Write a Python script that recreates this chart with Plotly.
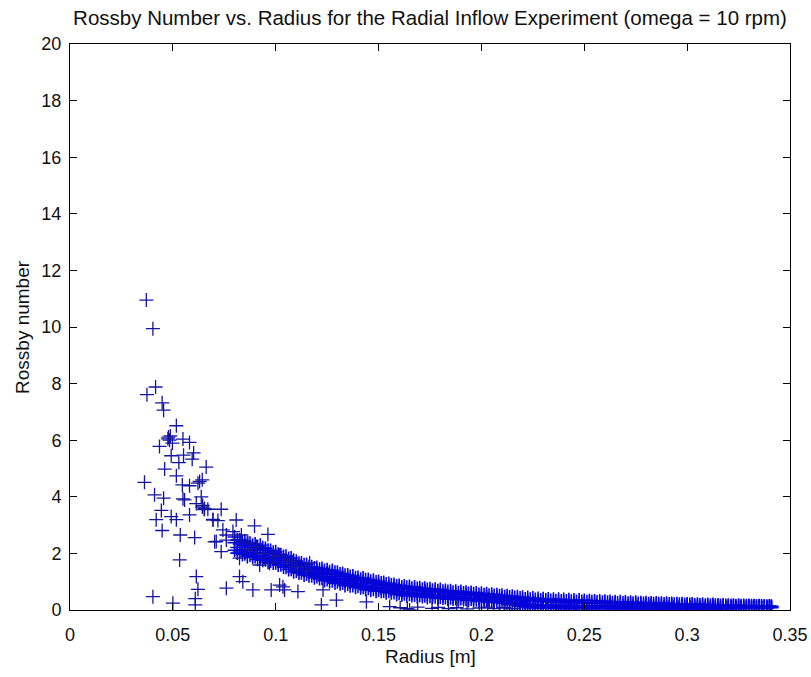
import plotly.graph_objects as go

# ---- scattered points (radius [m], Rossby number) ----
scatter_r = [0.0371, 0.0403, 0.0416, 0.0374, 0.0448, 0.0455, 0.0517, 0.0435, 0.0479, 0.0484,
             0.0549, 0.0581, 0.0601, 0.0492, 0.0552, 0.0594, 0.0662, 0.0460, 0.0529, 0.0362,
             0.0517, 0.0546, 0.0581, 0.0630, 0.0643, 0.0411, 0.0455, 0.0549, 0.0638, 0.0614,
             0.0643, 0.0444, 0.0581, 0.0492, 0.0517, 0.0419, 0.0670, 0.0695, 0.0719, 0.0448,
             0.0536, 0.0606, 0.0711, 0.0533, 0.0614, 0.0622, 0.0403, 0.0500, 0.0609, 0.0609,
             0.0476, 0.0488, 0.0645, 0.0652, 0.0498, 0.0622, 0.0557, 0.0654, 0.0735, 0.0695,
             0.0808, 0.0897, 0.0962, 0.0743, 0.0760, 0.0792, 0.0833, 0.0703, 0.0760, 0.0824,
             0.0865, 0.0906, 0.0735, 0.0824, 0.0873, 0.0938, 0.0986, 0.1019, 0.1052, 0.0970,
             0.0922, 0.1100, 0.1149, 0.0824, 0.0840, 0.0760, 0.0889, 0.0978, 0.1035, 0.1108,
             0.1222, 0.1295, 0.1230, 0.1441, 0.1554, 0.1651, 0.1019, 0.1043, 0.1165, 0.1080,
             0.1605, 0.1640, 0.1690, 0.1760, 0.1790, 0.1840, 0.1880, 0.1930, 0.1990, 0.2030,
             0.2060, 0.2110, 0.2150]
scatter_ro = [10.95, 9.94, 7.88, 7.61, 7.32, 7.06, 6.51, 5.78, 6.11, 6.00,
              6.04, 5.92, 5.55, 5.45, 5.47, 5.33, 5.05, 4.98, 5.21, 4.51,
              4.74, 4.42, 4.39, 4.54, 4.60, 4.07, 3.95, 3.93, 4.00, 3.76,
              3.64, 3.52, 3.36, 3.30, 3.19, 3.19, 3.56, 3.20, 3.16, 2.81,
              2.65, 2.56, 2.42, 1.77, 1.18, 0.73, 0.47, 0.24, 0.18, 0.40,
              6.05, 6.15, 3.70, 3.55, 5.90, 4.48, 3.89, 3.59, 3.56, 3.18,
              3.18, 2.97, 2.67, 2.83, 2.65, 2.77, 2.65, 2.41, 2.47, 2.47,
              2.36, 2.24, 2.06, 1.83, 2.12, 2.00, 1.88, 1.94, 1.77, 1.65,
              1.59, 1.53, 1.41, 1.18, 1.00, 0.77, 0.71, 0.71, 0.82, 0.65,
              0.18, 0.35, 0.71, 0.29, 0.12, 0.00, 0.88, 0.71, 1.66, 1.70,
              0.08, 0.05, 0.10, 0.06, 0.09, 0.05, 0.08, 0.04, 0.07, 0.10,
              0.05, 0.08, 0.05]

# ---- dense band of points ----
band_r = [0.0800, 0.0825, 0.0850, 0.0875, 0.0900, 0.0925, 0.0950, 0.0975, 0.1000, 0.1025,
          0.1050, 0.1075, 0.1100, 0.1125, 0.1150, 0.1175, 0.1200, 0.1225, 0.1250, 0.1275,
          0.1300, 0.1325, 0.1350, 0.1375, 0.1400, 0.1425, 0.1450, 0.1475, 0.1500, 0.1525,
          0.1550, 0.1575, 0.1600, 0.1625, 0.1650, 0.1675, 0.1700, 0.1725, 0.1750, 0.1775,
          0.1800, 0.1825, 0.1850, 0.1875, 0.1900, 0.1925, 0.1950, 0.1975, 0.2000, 0.2025,
          0.2050, 0.2075, 0.2100, 0.2125, 0.2150, 0.2175, 0.2200, 0.2225, 0.2250, 0.2275,
          0.2300, 0.2325, 0.2350, 0.2375, 0.2400, 0.2425, 0.2450, 0.2475, 0.2500, 0.2525,
          0.2550, 0.2575, 0.2600, 0.2625, 0.2650, 0.2675, 0.2700, 0.2725, 0.2750, 0.2775,
          0.2800, 0.2825, 0.2850, 0.2875, 0.2900, 0.2925, 0.2950, 0.2975, 0.3000, 0.3025,
          0.3050, 0.3075, 0.3100, 0.3125, 0.3150, 0.3175, 0.3200, 0.3225, 0.3250, 0.3275,
          0.3300, 0.3325, 0.3350, 0.3375, 0.3400]
band_r_b = [0.0813, 0.0838, 0.0862, 0.0888, 0.0912, 0.0937, 0.0963, 0.0988, 0.1012, 0.1038,
            0.1063, 0.1087, 0.1113, 0.1138, 0.1162, 0.1188, 0.1213, 0.1237, 0.1262, 0.1288,
            0.1313, 0.1337, 0.1362, 0.1388, 0.1413, 0.1437, 0.1462, 0.1488, 0.1513, 0.1537,
            0.1562, 0.1588, 0.1613, 0.1637, 0.1662, 0.1688, 0.1713, 0.1737, 0.1762, 0.1788,
            0.1813, 0.1837, 0.1862, 0.1888, 0.1913, 0.1937, 0.1962, 0.1988, 0.2013, 0.2037,
            0.2062, 0.2088, 0.2113, 0.2137, 0.2162, 0.2188, 0.2213, 0.2237, 0.2262, 0.2288,
            0.2313, 0.2337, 0.2362, 0.2388, 0.2413, 0.2437, 0.2462, 0.2488, 0.2513, 0.2537,
            0.2562, 0.2588, 0.2613, 0.2637, 0.2662, 0.2688, 0.2713, 0.2737, 0.2762, 0.2788,
            0.2813, 0.2837, 0.2862, 0.2888, 0.2913, 0.2937, 0.2962, 0.2988, 0.3013, 0.3037,
            0.3062, 0.3088, 0.3113, 0.3137, 0.3162, 0.3188, 0.3213, 0.3237, 0.3262, 0.3288,
            0.3313, 0.3337, 0.3362, 0.3388, 0.3410]
band_ro_hi = [2.58, 2.47, 2.44, 2.36, 2.33, 2.29, 2.17, 2.10, 2.06, 1.95,
              1.90, 1.84, 1.72, 1.66, 1.61, 1.53, 1.50, 1.47, 1.42, 1.40,
              1.33, 1.29, 1.24, 1.20, 1.15, 1.13, 1.08, 1.05, 1.01, 0.97,
              0.94, 0.90, 0.87, 0.85, 0.83, 0.81, 0.79, 0.77, 0.75, 0.73,
              0.72, 0.69, 0.68, 0.66, 0.65, 0.63, 0.62, 0.60, 0.59, 0.57,
              0.56, 0.54, 0.52, 0.50, 0.49, 0.47, 0.45, 0.44, 0.42, 0.41,
              0.40, 0.39, 0.38, 0.38, 0.37, 0.36, 0.35, 0.35, 0.34, 0.33,
              0.32, 0.32, 0.31, 0.30, 0.29, 0.29, 0.28, 0.27, 0.27, 0.26,
              0.26, 0.25, 0.25, 0.24, 0.24, 0.23, 0.22, 0.22, 0.21, 0.21,
              0.20, 0.20, 0.19, 0.19, 0.18, 0.18, 0.17, 0.17, 0.17, 0.16,
              0.16, 0.15, 0.15, 0.14, 0.14]
band_ro_u = [2.48, 2.40, 2.36, 2.29, 2.24, 2.20, 2.11, 2.04, 1.97, 1.89,
             1.82, 1.76, 1.65, 1.60, 1.53, 1.48, 1.44, 1.40, 1.35, 1.33,
             1.27, 1.23, 1.18, 1.14, 1.09, 1.07, 1.02, 0.99, 0.95, 0.92,
             0.88, 0.85, 0.81, 0.80, 0.77, 0.76, 0.73, 0.72, 0.70, 0.68,
             0.66, 0.65, 0.63, 0.61, 0.60, 0.58, 0.57, 0.55, 0.54, 0.52,
             0.51, 0.50, 0.47, 0.46, 0.44, 0.42, 0.39, 0.38, 0.37, 0.35,
             0.35, 0.34, 0.33, 0.32, 0.32, 0.31, 0.30, 0.30, 0.29, 0.29,
             0.28, 0.27, 0.27, 0.26, 0.25, 0.25, 0.24, 0.24, 0.23, 0.23,
             0.22, 0.22, 0.22, 0.21, 0.21, 0.20, 0.20, 0.19, 0.19, 0.18,
             0.18, 0.17, 0.17, 0.17, 0.16, 0.16, 0.16, 0.15, 0.15, 0.15,
             0.15, 0.14, 0.14, 0.13, 0.13]
band_ro_m1 = [2.38, 2.33, 2.29, 2.22, 2.15, 2.12, 2.04, 1.98, 1.88, 1.83,
              1.74, 1.68, 1.58, 1.54, 1.46, 1.42, 1.38, 1.33, 1.29, 1.26,
              1.20, 1.17, 1.11, 1.08, 1.03, 1.01, 0.96, 0.94, 0.89, 0.87,
              0.82, 0.80, 0.75, 0.74, 0.72, 0.71, 0.68, 0.67, 0.64, 0.63,
              0.61, 0.60, 0.58, 0.57, 0.55, 0.54, 0.52, 0.51, 0.49, 0.48,
              0.46, 0.45, 0.43, 0.41, 0.39, 0.36, 0.34, 0.32, 0.31, 0.30,
              0.29, 0.29, 0.28, 0.27, 0.27, 0.26, 0.26, 0.25, 0.25, 0.24,
              0.24, 0.23, 0.23, 0.22, 0.22, 0.21, 0.21, 0.20, 0.20, 0.20,
              0.19, 0.19, 0.19, 0.18, 0.18, 0.18, 0.17, 0.17, 0.16, 0.16,
              0.16, 0.15, 0.15, 0.15, 0.14, 0.15, 0.14, 0.14, 0.14, 0.13,
              0.14, 0.13, 0.13, 0.12, 0.12]
band_ro_m2 = [2.21, 2.13, 2.09, 2.02, 1.99, 1.92, 1.88, 1.80, 1.76, 1.67,
              1.58, 1.53, 1.44, 1.40, 1.33, 1.28, 1.25, 1.19, 1.16, 1.10,
              1.07, 1.02, 0.99, 0.94, 0.91, 0.86, 0.84, 0.79, 0.77, 0.73,
              0.71, 0.68, 0.64, 0.63, 0.60, 0.59, 0.57, 0.56, 0.54, 0.53,
              0.51, 0.50, 0.48, 0.47, 0.45, 0.44, 0.43, 0.42, 0.40, 0.39,
              0.37, 0.36, 0.34, 0.31, 0.28, 0.25, 0.22, 0.20, 0.19, 0.18,
              0.18, 0.18, 0.17, 0.17, 0.17, 0.16, 0.16, 0.16, 0.15, 0.15,
              0.15, 0.15, 0.14, 0.14, 0.13, 0.13, 0.13, 0.13, 0.12, 0.12,
              0.12, 0.12, 0.12, 0.11, 0.11, 0.11, 0.11, 0.11, 0.10, 0.10,
              0.10, 0.10, 0.10, 0.10, 0.09, 0.10, 0.10, 0.10, 0.10, 0.10,
              0.10, 0.10, 0.10, 0.10, 0.10]
band_ro_d = [2.11, 2.05, 1.99, 1.94, 1.89, 1.84, 1.78, 1.73, 1.67, 1.60,
             1.51, 1.44, 1.38, 1.32, 1.27, 1.21, 1.18, 1.12, 1.08, 1.03,
             1.00, 0.95, 0.92, 0.87, 0.85, 0.80, 0.77, 0.73, 0.71, 0.67,
             0.66, 0.62, 0.59, 0.57, 0.56, 0.53, 0.52, 0.50, 0.49, 0.47,
             0.46, 0.44, 0.43, 0.41, 0.41, 0.39, 0.39, 0.36, 0.36, 0.34,
             0.33, 0.31, 0.29, 0.26, 0.23, 0.19, 0.16, 0.14, 0.13, 0.12,
             0.13, 0.12, 0.12, 0.11, 0.12, 0.10, 0.11, 0.10, 0.11, 0.10,
             0.11, 0.10, 0.10, 0.09, 0.10, 0.08, 0.09, 0.08, 0.09, 0.08,
             0.09, 0.08, 0.08, 0.08, 0.08, 0.07, 0.08, 0.07, 0.08, 0.07,
             0.08, 0.07, 0.08, 0.07, 0.07, 0.08, 0.08, 0.08, 0.08, 0.08,
             0.09, 0.08, 0.09, 0.09, 0.09]
band_ro_lo = [2.01, 1.96, 1.89, 1.86, 1.79, 1.76, 1.69, 1.66, 1.59, 1.52,
              1.43, 1.35, 1.31, 1.24, 1.21, 1.14, 1.11, 1.04, 1.01, 0.95,
              0.93, 0.87, 0.86, 0.80, 0.79, 0.73, 0.71, 0.66, 0.66, 0.61,
              0.61, 0.55, 0.53, 0.50, 0.51, 0.47, 0.48, 0.44, 0.45, 0.41,
              0.42, 0.38, 0.39, 0.36, 0.37, 0.34, 0.35, 0.31, 0.32, 0.28,
              0.29, 0.25, 0.25, 0.20, 0.19, 0.13, 0.11, 0.07, 0.08, 0.06,
              0.08, 0.06, 0.07, 0.05, 0.07, 0.05, 0.07, 0.05, 0.07, 0.05,
              0.07, 0.05, 0.06, 0.05, 0.06, 0.04, 0.06, 0.04, 0.05, 0.04,
              0.06, 0.04, 0.05, 0.04, 0.06, 0.04, 0.05, 0.04, 0.06, 0.04,
              0.05, 0.04, 0.06, 0.04, 0.05, 0.05, 0.06, 0.05, 0.06, 0.06,
              0.07, 0.06, 0.07, 0.07, 0.08]

x_ticks = [0, 0.05, 0.1, 0.15, 0.2, 0.25, 0.3, 0.35]
x_tick_labels = ["0", "0.05", "0.1", "0.15", "0.2", "0.25", "0.3", "0.35"]
y_ticks = [0, 2, 4, 6, 8, 10, 12, 14, 16, 18, 20]

band_all_r = band_r + band_r_b + band_r + band_r_b + band_r + band_r_b
band_all_ro = band_ro_hi + band_ro_u + band_ro_m1 + band_ro_m2 + band_ro_d + band_ro_lo

BAND_COLOR = "#0505d8"
POINT_COLOR = "#14149e"
FONT = "Liberation Sans"
TXT = "#111111"

fig = go.Figure()
fig.add_trace(go.Scatter(
    x=band_all_r, y=band_all_ro, mode="markers",
    marker=dict(symbol="cross-thin", size=10, color=BAND_COLOR,
                line=dict(color=BAND_COLOR, width=1.6)),
    hoverinfo="skip", showlegend=False))
fig.add_trace(go.Scatter(
    x=scatter_r, y=scatter_ro, mode="markers",
    marker=dict(symbol="cross-thin", size=10, color=POINT_COLOR,
                line=dict(color=POINT_COLOR, width=1.3)),
    hoverinfo="skip", showlegend=False))

axis_common = dict(showline=True, linecolor="black", linewidth=1, mirror="ticks",
                   ticks="inside", ticklen=7, tickcolor="black", tickwidth=1,
                   showgrid=False, zeroline=False, automargin=False,
                   tickfont=dict(family=FONT, size=18, color=TXT))

fig.update_layout(
    width=811, height=677,
    paper_bgcolor="white", plot_bgcolor="white",
    margin=dict(l=70, r=21, t=44, b=67, pad=0, autoexpand=False),
    font=dict(family=FONT, color=TXT),
    title=dict(text="Rossby Number vs. Radius for the Radial Inflow Experiment (omega = 10 rpm)",
               font=dict(family=FONT, size=20.5, color=TXT),
               x=0.5, xanchor="center", xref="paper", y=1 - 18 / 677, yref="container",
               yanchor="middle"),
    xaxis=dict(range=[0, 0.35], tickvals=x_ticks, ticktext=x_tick_labels,
               ticklabelstandoff=8, **axis_common),
    yaxis=dict(range=[0, 20], tickvals=y_ticks, ticklabelstandoff=4, **axis_common),
    annotations=[
        dict(text="Radius [m]", xref="paper", yref="paper", x=0.5, y=-0.0813,
             xanchor="center", yanchor="middle", showarrow=False,
             font=dict(family=FONT, size=19, color=TXT)),
        dict(text="Rossby number", xref="paper", yref="paper", x=-0.0667, y=0.5,
             xanchor="center", yanchor="middle", textangle=-90, showarrow=False,
             font=dict(family=FONT, size=19, color=TXT)),
    ],
)

fig.write_html("out.html",
               config={"displayModeBar": False, "staticPlot": True},
               post_script="document.body.style.margin='0';document.body.style.overflow='hidden';")
